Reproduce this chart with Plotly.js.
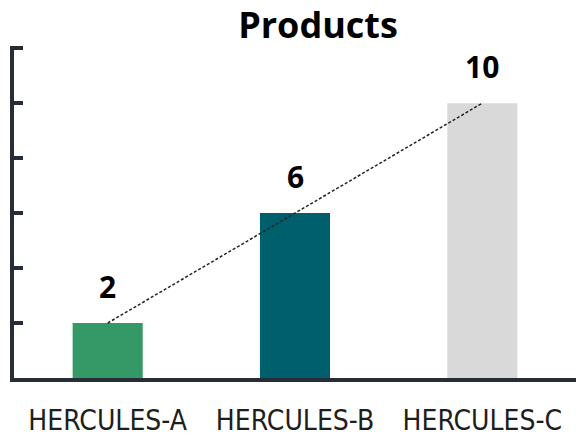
<!DOCTYPE html>
<html>
<head>
<meta charset="utf-8">
<script src="https://cdn.plot.ly/plotly-3.0.1.min.js"></script>
<style>html,body{margin:0;padding:0;background:#fff;}#chart{width:576px;height:439px;}</style>
</head>
<body>
<div id="chart"></div>
<script>
const categories = ['HERCULES-A', 'HERCULES-B', 'HERCULES-C'];
const values = [2, 6, 10];
const barColors = ['#349967', '#005f6d', '#d9d9d9'];
const chartTitle = 'Products';

// linear trendline (least squares) over category index
const n = values.length;
const idx = values.map((_, i) => i);
const mx = idx.reduce((a, b) => a + b, 0) / n;
const my = values.reduce((a, b) => a + b, 0) / n;
let sxy = 0, sxx = 0;
idx.forEach((x, i) => { sxy += (x - mx) * (values[i] - my); sxx += (x - mx) * (x - mx); });
const slope = sxy / sxx;
const intercept = my - slope * mx;
const trendY = [intercept, intercept + slope * (n - 1)];
const trendX = [categories[0], categories[n - 1]];

const axisColor = '#262d37';
const font = 'Open Sans, Noto Sans, sans-serif';
const tickFont = 'DejaVu Sans Condensed, Open Sans, sans-serif';

const data = [
  {
    type: 'bar',
    x: categories,
    y: values,
    marker: { color: barColors },
    hoverinfo: 'none'
  },
  {
    type: 'scatter',
    mode: 'lines',
    x: trendX,
    y: trendY,
    line: { color: '#222222', width: 1.5, dash: '3px,2px' },
    hoverinfo: 'none'
  }
];

const annotations = categories.map((c, i) => ({
  x: c, y: values[i], xref: 'x', yref: 'y',
  text: String(values[i]),
  showarrow: false,
  yanchor: 'middle',
  yshift: 37,
  font: { family: font, size: 30, color: '#000000', weight: 'bold' }
}));

const layout = {
  width: 576,
  height: 439,
  margin: { l: 14, r: 0, t: 46, b: 61 },
  paper_bgcolor: '#ffffff',
  plot_bgcolor: '#ffffff',
  showlegend: false,
  bargap: 0.626,
  title: {
    text: chartTitle,
    font: { family: font, size: 36, color: '#000000', weight: 'bold' },
    x: 318 / 576, xanchor: 'center', xref: 'container',
    y: 1 - 25 / 439, yanchor: 'middle', yref: 'container'
  },
  xaxis: {
    type: 'category',
    range: [-0.5, 2.5],
    showline: true,
    linecolor: axisColor,
    linewidth: 4,
    showgrid: false,
    zeroline: false,
    ticks: '',
    ticklabelstandoff: 14,
    tickfont: { family: tickFont, size: 28, color: '#1e1e1e' },
    fixedrange: true
  },
  yaxis: {
    range: [0, 12.08],
    dtick: 2,
    tick0: 0,
    showline: true,
    linecolor: axisColor,
    linewidth: 4,
    ticks: 'inside',
    ticklen: 9,
    tickwidth: 4,
    tickcolor: axisColor,
    showticklabels: false,
    showgrid: false,
    zeroline: false,
    fixedrange: true
  },
  annotations: annotations
};

Plotly.newPlot('chart', data, layout, { displayModeBar: false, staticPlot: true });
</script>
</body>
</html>
